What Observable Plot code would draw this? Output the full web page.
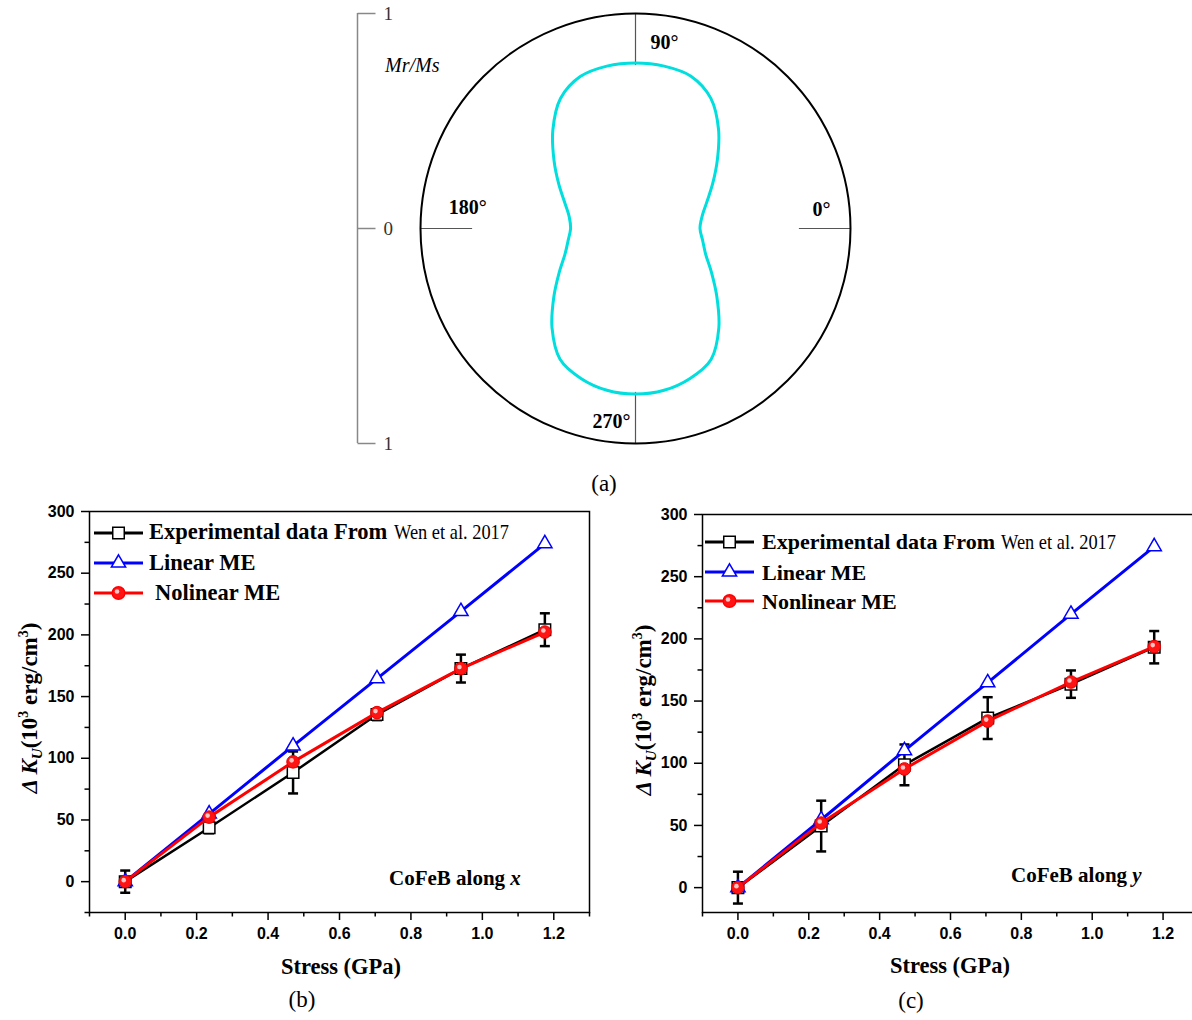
<!DOCTYPE html>
<html><head><meta charset="utf-8">
<script src="https://cdn.jsdelivr.net/npm/d3@7"></script>
<script src="https://cdn.jsdelivr.net/npm/@observablehq/plot@0.6"></script>
<style>
html,body{margin:0;padding:0;background:#fff;overflow:hidden;}
#page{position:relative;width:1192px;height:1020px;overflow:hidden;background:#fff;}
.box{position:absolute;}
.box svg{max-width:none !important;}
</style></head>
<body><div id="page"></div>
<script>
// ---------- data: panel (a), remanence ratio vs in-plane angle ----------
const polarAngles = [0,10,20,30,40,50,60,70,80,90,100,110,120,130,140,150,160,170,
                     180,190,200,210,220,230,240,250,260,270,280,290,300,310,320,330,340,350];
const polarMrMs = [0.300,0.314,0.352,0.414,0.497,0.601,0.700,0.754,0.767,0.770,0.767,0.752,
                   0.698,0.598,0.495,0.412,0.350,0.313,0.302,0.318,0.349,0.410,0.496,0.604,
                   0.702,0.742,0.764,0.770,0.764,0.742,0.703,0.603,0.494,0.408,0.347,0.317];
const angleTicks = [0, 90, 180, 270];
const angleTickLabels = ["0°", "90°", "180°", "270°"];
const radialTickValues = [1, 0, -1];
const radialTickLabels = ["1", "0", "1"];

// ---------- data: panels (b) and (c) ----------
const stress = [0, 0.235, 0.47, 0.705, 0.94, 1.175];
const xTicks = [0, 0.2, 0.4, 0.6, 0.8, 1.0, 1.2];
const xTickLabels = ["0.0", "0.2", "0.4", "0.6", "0.8", "1.0", "1.2"];
const xMinorTicks = [-0.1, 0.1, 0.3, 0.5, 0.7, 0.9, 1.1, 1.3];
const yTicks = [0, 50, 100, 150, 200, 250, 300];
const yTickLabels = ["0", "50", "100", "150", "200", "250", "300"];
const yMinorTicksB = [-25, 25, 75, 125, 175, 225, 275];
const yMinorTicksC = [25, 75, 125, 175, 225, 275];

// (b) CoFeB along x
const expAlongX = [0, 43.7, 88.5, 135.4, 172.7, 204.2];
const expErrAlongX = [9, 4.5, 17, 4.5, 11.3, 13.3];
const linearAlongX = [0, 55, 110, 164.5, 219, 274];
const nonlinearAlongX = [0, 52.3, 97.1, 137, 172.7, 202.3];
// (c) CoFeB along y
const expAlongY = [0, 49.5, 98.7, 136.3, 163.6, 193.3];
const expErrAlongY = [12.8, 20.4, 16.4, 16.8, 11, 13];
const linearAlongY = [0, 54.6, 110.2, 164.8, 219.9, 274.2];
const nonlinearAlongY = [0, 51.9, 95.4, 133.9, 165.3, 193.8];

const seriesNames = ["Experimental data From", "Linear ME", "Nolinear ME", "Nonlinear ME"];
const citation = "Wen et al. 2017";

// ---------- styles ----------
const sans = "'Liberation Sans', Arial, sans-serif";
const serif = "'Liberation Serif', 'Times New Roman', serif";
const BLUE = "#0000ff", RED = "#ff0000", CYAN = "#00dede";
const page = document.getElementById("page");
function place(node, left, top, w, h) {
  const d = document.createElement("div");
  d.className = "box"; d.style.left = left + "px"; d.style.top = top + "px";
  d.style.width = w + "px"; d.style.height = h + "px";
  node.style.maxWidth = "none";
  d.appendChild(node); page.appendChild(d);
}

// ---------- panel (a): polar plot ----------
const R = 215, PW = 600, PH = 460, PCX = 300, PCY = 228;
const rad = a => a * Math.PI / 180;
const polarTable = polarAngles.map((a, i) => ({x: polarMrMs[i] * Math.cos(rad(a)), y: polarMrMs[i] * Math.sin(rad(a))}));
const tickInner = 0.76;
const barX = -278 / R;
const angleLabelLayout = [
  {r: 0.865, dx: 0, dy: -19, anchor: "middle"},
  {r: 0.865, dx: 15, dy: 0, anchor: "start"},
  {r: 0.78, dx: 0, dy: -21, anchor: "middle"},
  {r: 0.90, dx: -5, dy: 0, anchor: "end"}
];
const polar = Plot.plot({
  width: PW, height: PH, margin: 0,
  style: {background: "transparent", overflow: "visible"},
  x: {domain: [-PCX / R, (PW - PCX) / R], axis: null},
  y: {domain: [-(PH - PCY) / R, PCY / R], axis: null},
  marks: [
    Plot.link(angleTicks, {x1: a => tickInner * Math.cos(rad(a)), y1: a => tickInner * Math.sin(rad(a)),
      x2: a => Math.cos(rad(a)), y2: a => Math.sin(rad(a)), stroke: "#555", strokeWidth: 1.2}),
    Plot.dot([0], {x: 0, y: 0, r: R, stroke: "black", strokeWidth: 2, fill: "none"}),
    Plot.line(polarTable, {x: "x", y: "y", curve: "catmull-rom-closed", stroke: CYAN, strokeWidth: 3}),
    ...angleTicks.map((a, i) => Plot.text([a], {
      x: d => angleLabelLayout[i].r * Math.cos(rad(d)), y: d => angleLabelLayout[i].r * Math.sin(rad(d)),
      text: () => angleTickLabels[i], dx: angleLabelLayout[i].dx, dy: angleLabelLayout[i].dy,
      textAnchor: angleLabelLayout[i].anchor, fontFamily: serif, fontWeight: "bold", fontSize: 20, fill: "black"})),
    Plot.ruleX([barX], {y1: -1, y2: 1, stroke: "#888", strokeWidth: 1.5}),
    Plot.link(radialTickValues, {x1: barX, x2: barX + 18 / R, y1: d => d, y2: d => d, stroke: "#888", strokeWidth: 1.5}),
    Plot.text(radialTickValues, {x: barX + 26 / R, y: d => d, text: (d, i) => radialTickLabels[i],
      textAnchor: "start", fontFamily: serif, fontSize: 19, fill: "#333"})
  ]
});
place(polar, 335, 0, PW, PH);

// ---------- panels (b), (c) ----------
const capSymbol = {draw(ctx, size) { const w = Math.sqrt(size / Math.PI); ctx.moveTo(-w, 0); ctx.lineTo(w, 0); }};
function panel(cfg) {
  const rows = stress.map((s, i) => ({s, exp: cfg.exp[i], err: cfg.err[i], lin: cfg.lin[i], non: cfg.non[i]}));
  const fmtX = d => xTickLabels[xTicks.findIndex(t => Math.abs(t - d) < 1e-9)];
  const fmtY = d => yTickLabels[yTicks.findIndex(t => Math.abs(t - d) < 1e-9)];
  return Plot.plot({
    width: cfg.width, height: cfg.height,
    marginLeft: cfg.ml, marginRight: cfg.mr, marginTop: cfg.mt, marginBottom: cfg.mb,
    style: {background: "transparent", fontFamily: sans, color: "black", overflow: "visible", maxWidth: "none"},
    x: {domain: [-0.1, 1.3]},
    y: {domain: cfg.yDomain},
    marks: [
      Plot.axisX({ticks: xMinorTicks, tickSize: 4.5, strokeWidth: 1.5, tickFormat: () => "", label: null}),
      Plot.axisX({ticks: xTicks, tickSize: 8, tickPadding: 7, strokeWidth: 1.5, tickFormat: fmtX,
        fontSize: 16, fontWeight: "bold", label: null}),
      Plot.axisY({ticks: cfg.yMinor, tickSize: 4.5, strokeWidth: 1.5, tickFormat: () => "", label: null}),
      Plot.axisY({ticks: yTicks, tickSize: 8, tickPadding: 7, strokeWidth: 1.5, tickFormat: fmtY,
        fontSize: 16, fontWeight: "bold", label: null}),
      Plot.frame({stroke: "black", strokeWidth: 1.5}),
      Plot.line(rows, {x: "s", y: "exp", stroke: "black", strokeWidth: 2.5}),
      Plot.ruleX(rows, {x: "s", y1: d => d.exp - d.err, y2: d => d.exp + d.err, stroke: "black", strokeWidth: 2.5}),
      Plot.dot(rows, {x: "s", y: d => d.exp - d.err, symbol: capSymbol, r: 5, fill: "none", stroke: "black", strokeWidth: 2.5}),
      Plot.dot(rows, {x: "s", y: d => d.exp + d.err, symbol: capSymbol, r: 5, fill: "none", stroke: "black", strokeWidth: 2.5}),
      Plot.dot(rows, {x: "s", y: "exp", symbol: "square", r: 6.5, fill: "white", stroke: "black", strokeWidth: 1.5}),
      Plot.line(rows, {x: "s", y: "lin", stroke: BLUE, strokeWidth: 3}),
      Plot.dot(rows, {x: "s", y: "lin", symbol: "triangle", r: 5.3, fill: "white", stroke: BLUE, strokeWidth: 1.5}),
      Plot.line(rows, {x: "s", y: "non", stroke: RED, strokeWidth: 3}),
      Plot.dot(rows, {x: "s", y: "non", symbol: "circle", r: 6.3, fill: "#ff1414", stroke: "#e80000", strokeWidth: 1}),
      Plot.dot(rows, {x: "s", y: "non", symbol: "circle", r: 2.3, fill: "#ffc4c4", dx: -1.5, dy: -1.5})
    ]
  });
}
place(panel({width: 600, height: 500, ml: 89, mr: 11, mt: 16, mb: 83, yDomain: [-25, 300], yMinor: yMinorTicksB,
  exp: expAlongX, err: expErrAlongX, lin: linearAlongX, non: nonlinearAlongX}), 0, 495, 600, 500);
place(panel({width: 600, height: 500, ml: 102, mr: 2, mt: 19, mb: 83, yDomain: [-20, 300], yMinor: yMinorTicksC,
  exp: expAlongY, err: expErrAlongY, lin: linearAlongY, non: nonlinearAlongY}), 600, 495, 600, 500);

// ---------- text overlay: captions, titles, legends ----------
const ov = d3.select("#page").append("svg")
  .attr("width", 1192).attr("height", 1020)
  .style("position", "absolute").style("left", 0).style("top", 0).style("pointer-events", "none");

function caption(x, y, s) {
  ov.append("text").attr("x", x).attr("y", y).attr("text-anchor", "middle")
    .attr("font-family", serif).attr("font-size", 23).text(s);
}
caption(604, 491, "(a)");
caption(302, 1007, "(b)");
caption(911, 1008, "(c)");

function xTitle(x, y) {
  ov.append("text").attr("x", x).attr("y", y).attr("text-anchor", "middle")
    .attr("font-family", serif).attr("font-weight", "bold").attr("font-size", 22.5).text("Stress (GPa)");
}
xTitle(341, 974);
xTitle(950, 973);

function yTitle(x, y) {
  const t = ov.append("text").attr("transform", `translate(${x},${y}) rotate(-90)`).attr("text-anchor", "middle")
    .attr("font-family", serif).attr("font-weight", "bold").attr("font-size", 23);
  t.append("tspan").attr("font-style", "italic").text("Δ K");
  t.append("tspan").attr("font-style", "italic").attr("font-size", 15).attr("dy", 5).text("U");
  t.append("tspan").attr("dy", -5).text("(10");
  t.append("tspan").attr("font-size", 14).attr("dy", -9).text("3");
  t.append("tspan").attr("dy", 9).text(" erg/cm");
  t.append("tspan").attr("font-size", 14).attr("dy", -9).text("3");
  t.append("tspan").attr("dy", 9).text(")");
}
yTitle(37, 708);
yTitle(651, 710);

function note(x, y, s, v) {
  const t = ov.append("text").attr("x", x).attr("y", y).attr("font-family", serif)
    .attr("font-weight", "bold").attr("font-size", 21);
  t.append("tspan").text(s + " ");
  t.append("tspan").attr("font-style", "italic").text(v);
}
note(389, 885, "CoFeB along", "x");
note(1011, 882, "CoFeB along", "y");

ov.append("text").attr("x", 385).attr("y", 72).attr("font-family", serif).attr("font-style", "italic")
  .attr("font-size", 20).text("Mr/Ms");

function legend(cfg) {
  const items = [
    {color: "black", symbol: d3.symbolSquare, r: 6.5, fill: "white", name: seriesNames[0], cite: true},
    {color: BLUE, symbol: d3.symbolTriangle, r: 5.3, fill: "white", name: seriesNames[1]},
    {color: RED, symbol: d3.symbolCircle, r: 6.3, fill: "#ff1414", name: cfg.third, ball: true}
  ];
  items.forEach((it, i) => {
    const ly = cfg.lineY[i];
    ov.append("line").attr("x1", cfg.x1).attr("x2", cfg.x2).attr("y1", ly).attr("y2", ly)
      .attr("stroke", it.color).attr("stroke-width", 3);
    const cx = (cfg.x1 + cfg.x2) / 2;
    ov.append("path").attr("transform", `translate(${cx},${ly})`)
      .attr("d", d3.symbol(it.symbol, Math.PI * it.r * it.r)())
      .attr("fill", it.fill).attr("stroke", it.color).attr("stroke-width", 1.5);
    if (it.ball) ov.append("circle").attr("cx", cx - 1.5).attr("cy", ly - 1.5).attr("r", 2.3).attr("fill", "#ffc4c4");
    ov.append("text").attr("x", cfg.tx[i]).attr("y", cfg.base[i]).attr("font-family", serif)
      .attr("font-weight", "bold").attr("font-size", cfg.fs).text(it.name);
    if (it.cite) ov.append("text").attr("x", cfg.citeX).attr("y", cfg.base[i]).attr("font-family", serif)
      .attr("font-size", 21).attr("textLength", 115).attr("lengthAdjust", "spacingAndGlyphs").text(citation);
  });
}
legend({x1: 94, x2: 143, lineY: [533, 563, 593], tx: [149, 149, 155], base: [539, 570, 600], fs: 22.5,
  citeX: 394, third: seriesNames[2]});
legend({x1: 705, x2: 754, lineY: [542, 572, 601], tx: [762, 762, 762], base: [549, 580, 609], fs: 22,
  citeX: 1001, third: seriesNames[3]});
</script>
</body></html>
